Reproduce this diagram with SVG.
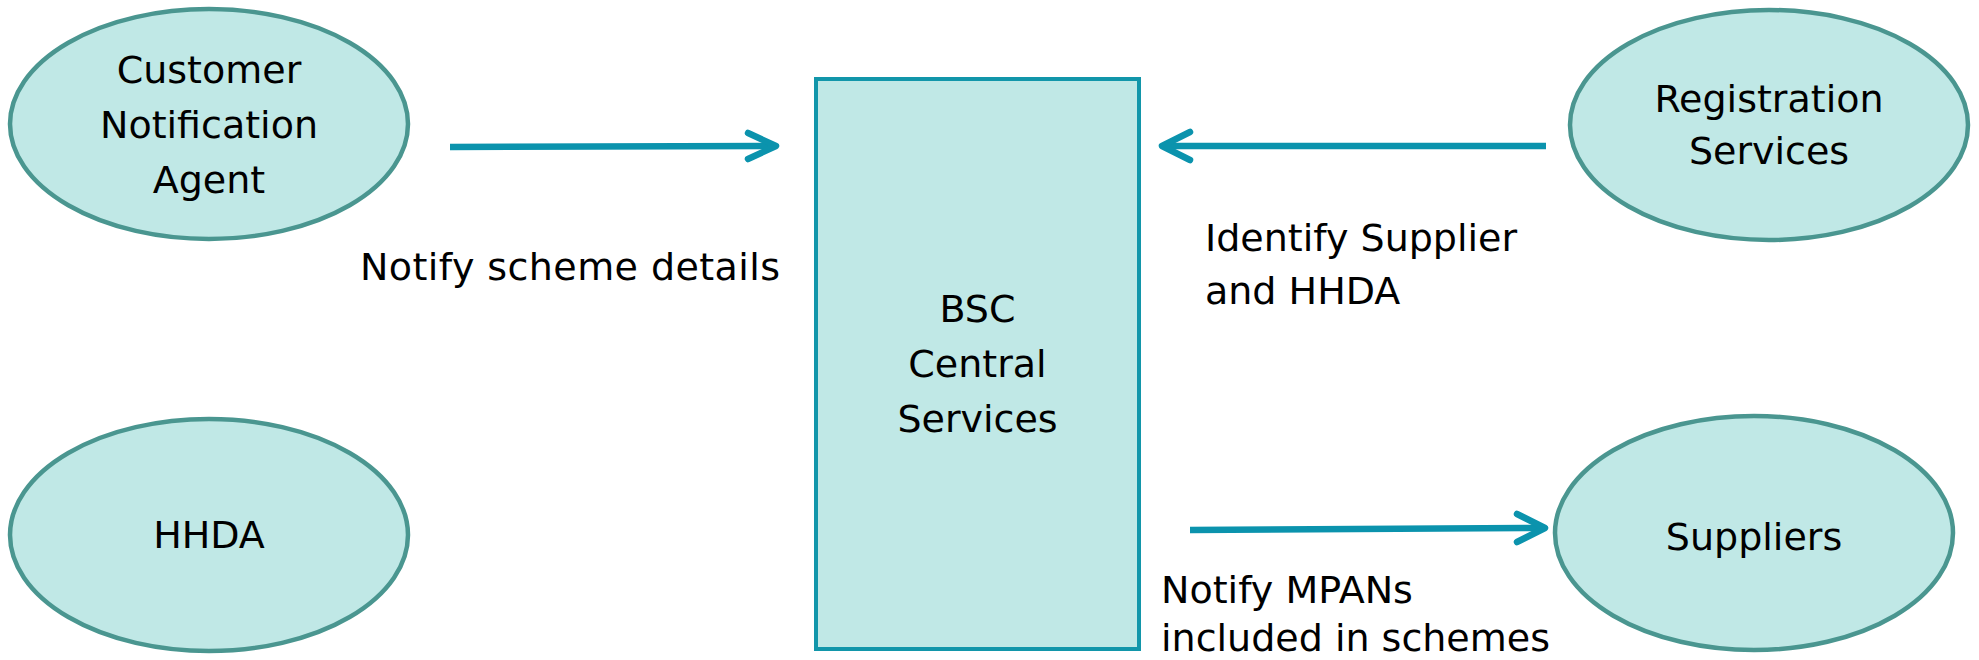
<svg xmlns="http://www.w3.org/2000/svg" width="1979" height="660" viewBox="0 0 1979 660">
<defs>
<style>
.node-e{fill:#c0e8e6;stroke:#4a9690;stroke-width:4.5}
.node-r{fill:#c0e8e6;stroke:#1296aa;stroke-width:4}
.t{font-family:"DejaVu Sans","Liberation Sans",sans-serif;font-size:38px;fill:#000}
.c{text-anchor:middle}
.conn{fill:none;stroke:#0b93ad;stroke-width:6.5;stroke-linecap:round;stroke-linejoin:round}
.conn-line{fill:none;stroke:#0b93ad;stroke-width:6.5;stroke-linecap:butt}
</style>
</defs>
<rect width="1979" height="660" fill="#fff"/>
<g id="cna">
<ellipse class="node-e" cx="209" cy="124" rx="199" ry="115"/>
<text class="t c" x="209" y="83">Customer</text>
<text class="t c" x="209" y="138">Notification</text>
<text class="t c" x="209" y="193">Agent</text>
</g>
<g id="hhda">
<ellipse class="node-e" cx="209" cy="535" rx="199" ry="116"/>
<text class="t c" x="209" y="548">HHDA</text>
</g>
<g id="bsc">
<rect class="node-r" x="816" y="79" width="323" height="570"/>
<text class="t c" x="977.5" y="322">BSC</text>
<text class="t c" x="977.5" y="377">Central</text>
<text class="t c" x="977.5" y="432">Services</text>
</g>
<g id="registration">
<ellipse class="node-e" cx="1769" cy="125" rx="199" ry="115"/>
<text class="t c" x="1769" y="112">Registration</text>
<text class="t c" x="1769" y="164">Services</text>
</g>
<g id="suppliers">
<ellipse class="node-e" cx="1754" cy="533" rx="199" ry="117"/>
<text class="t c" x="1754" y="550">Suppliers</text>
</g>
<g id="connectors">
<line class="conn-line" x1="450" y1="147" x2="775" y2="146"/>
<polyline class="conn" points="748,133 776,146 748,159"/>
<line class="conn-line" x1="1546" y1="146" x2="1163" y2="146"/>
<polyline class="conn" points="1190,132 1162,146 1190,160"/>
<line class="conn-line" x1="1190" y1="530" x2="1544" y2="528"/>
<polyline class="conn" points="1517,514 1545,528 1517,542"/>
</g>
<g id="labels">
<text class="t" x="360" y="280" textLength="420">Notify scheme details</text>
<text class="t" x="1205" y="251">Identify Supplier</text>
<text class="t" x="1205" y="304">and HHDA</text>
<text class="t" x="1161" y="603">Notify MPANs</text>
<text class="t" x="1161" y="651">included in schemes</text>
</g>
</svg>
